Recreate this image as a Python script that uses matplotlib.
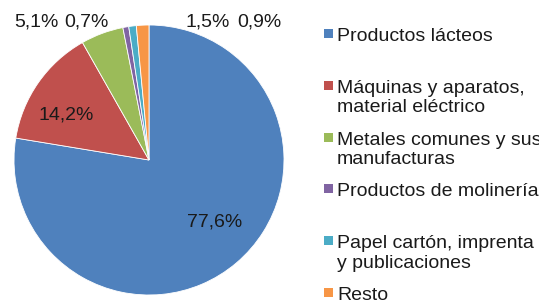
import matplotlib
matplotlib.use('Agg')
import matplotlib.pyplot as plt
from matplotlib.patches import Rectangle

plt.rcParams['font.family'] = ['Liberation Sans', 'DejaVu Sans']

# Data
categories = ['Productos lácteos', 'Máquinas y aparatos,\nmaterial eléctrico',
              'Metales comunes y sus\nmanufacturas', 'Productos de molinería',
              'Papel cartón, imprenta\ny publicaciones', 'Resto']
shares = [77.6, 14.2, 5.1, 0.7, 0.9, 1.5]
pct_labels = ['77,6%', '14,2%', '5,1%', '0,7%', '0,9%', '1,5%']
colors = ['#4F81BD', '#C0504D', '#9BBB59', '#8064A2', '#4BACC6', '#F79646']

# label positions in pixels (x, y from top)
label_pos = [(215, 222), (66, 115), (36, 22), (86, 22), (259, 22), (208, 22)]

W, H = 539, 304
fig = plt.figure(figsize=(W / 100, H / 100), dpi=100)
ax = fig.add_axes([(149 - 135) / W, (H - 295) / H, 270 / W, 270 / H])

ax.pie(shares, colors=colors, startangle=90, counterclock=False,
       wedgeprops=dict(edgecolor='white', linewidth=0.6))
ax.set_xlim(-1, 1)
ax.set_ylim(-1, 1)
ax.set_aspect('equal')

for txt, (px, py) in zip(pct_labels, label_pos):
    fig.text(px / W, 1 - py / H, txt, ha='center', va='center', fontsize=14, color='#1a1a1a')

# manual legend
y0 = 36
step = 51.8
for i, (name, c) in enumerate(zip(categories, colors)):
    y = y0 + i * step
    fig.add_artist(Rectangle((324 / W, 1 - (y + 2) / H), 9 / W, 9 / H,
                             transform=fig.transFigure, color=c, lw=0))
    fig.text(337 / W, 1 - (y - 8) / H, name, ha='left', va='top', fontsize=14,
             color='#1a1a1a', linespacing=1.2)

fig.savefig('out.png', dpi=100)
